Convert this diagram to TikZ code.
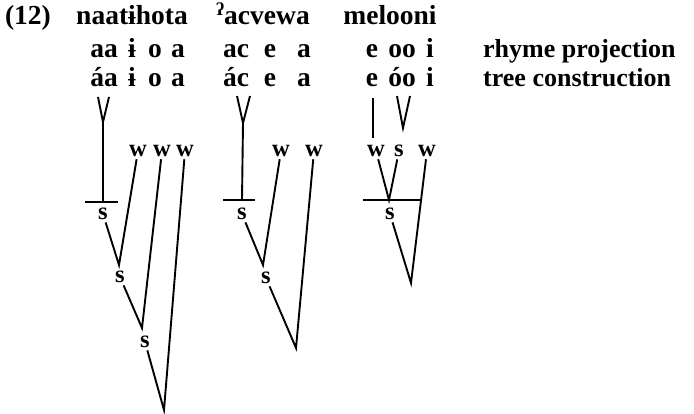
\documentclass[tikz,border=0pt]{standalone}
\usepackage{fontspec}
\setmainfont{Liberation Serif}
\begin{document}
\begin{tikzpicture}[x=1pt,y=-1pt,
  txt/.style={font=\bfseries\fontsize{27.5}{32}\selectfont, inner sep=0pt, anchor=base},
  side/.style={font=\bfseries\fontsize{26}{30}\selectfont, inner sep=0pt, anchor=base west},
  lab/.style={font=\bfseries\fontsize{24.5}{28}\selectfont, inner sep=0pt, outer sep=2.5pt},
  ln/.style={line width=1.9pt}]
\useasboundingbox (0,0) rectangle (694,414);
% row 1
\node[txt] (num) at (28,25) {(12)};
\node[txt] (wa) at (132,25) {naatɨhota};
\node[txt] (wb) at (263,25) {\raisebox{0.33em}{\fontsize{18}{18}\selectfont ʔ}acvewa};
\node[txt] (wc) at (390,25) {melooni};
% row 2
\node[txt] (ra1) at (104,58) {aa};
\node[txt] (ra2) at (132,58) {ɨ};
\node[txt] (ra3) at (155,58) {o};
\node[txt] (ra4) at (178,58) {a};
\node[txt] (rb1) at (236,58) {ac};
\node[txt] (rb2) at (270,58) {e};
\node[txt] (rb3) at (304,58) {a};
\node[txt] (rc1) at (372,58) {e};
\node[txt] (rc2) at (402,58) {oo};
\node[txt] (rc3) at (430,58) {i};
\node[side] (rp) at (483,58) {rhyme projection};
% row 3
\node[txt] (ta1) at (104,87) {áa};
\node[txt] (ta2) at (132,87) {ɨ};
\node[txt] (ta3) at (155,87) {o};
\node[txt] (ta4) at (178,87) {a};
\node[txt] (tb1) at (236,87) {ác};
\node[txt] (tb2) at (270,87) {e};
\node[txt] (tb3) at (304,87) {a};
\node[txt] (tc1) at (372,87) {e};
\node[txt] (tc2) at (402,87) {óo};
\node[txt] (tc3) at (430,87) {i};
\node[side] (tc) at (483,87) {tree construction};

% ---------- tree 1 ----------
\coordinate (a1l) at (98,97);
\coordinate (a1r) at (109,97);
\coordinate (a1j) at (103,122);
\coordinate (a1b) at (103,202);
\coordinate (a1bl) at (85,202);
\coordinate (a1br) at (118,202);
\draw[ln] (a1l) -- (a1j) (a1r) -- (a1j) -- (a1b);
\draw[ln] (a1bl) -- (a1br);
\node[lab] (as1) at (103,214) {s};
\node[lab] (aw1) at (138,151) {w};
\node[lab] (aw2) at (162,151) {w};
\node[lab] (aw3) at (185,151) {w};
\coordinate (aj1) at (119,265);
\node[lab] (as2) at (120,277) {s};
\coordinate (aj2) at (142,328);
\node[lab] (as3) at (145,342) {s};
\coordinate (aj3) at (164,410);
\draw[ln] (as1) -- (aj1) -- (aw1);
\draw[ln] (as2) -- (aj2) -- (aw2);
\draw[ln] (as3) -- (aj3) -- (aw3);

% ---------- tree 2 ----------
\coordinate (b1l) at (237,96);
\coordinate (b1r) at (250,96);
\coordinate (b1j) at (243,123);
\coordinate (b1b) at (242,200);
\coordinate (b1bl) at (223,200);
\coordinate (b1br) at (255,200);
\draw[ln] (b1l) -- (b1j) (b1r) -- (b1j) -- (b1b);
\draw[ln] (b1bl) -- (b1br);
\node[lab] (bs1) at (242,214) {s};
\node[lab] (bw1) at (281,151) {w};
\node[lab] (bw2) at (314,151) {w};
\coordinate (bj1) at (263,265);
\node[lab] (bs2) at (266,278) {s};
\coordinate (bj2) at (296,348);
\draw[ln] (bs1) -- (bj1) -- (bw1);
\draw[ln] (bs2) -- (bj2) -- (bw2);

% ---------- tree 3 ----------
\coordinate (c1t) at (373,98);
\coordinate (c1b) at (373,138);
\coordinate (c2l) at (397,96);
\coordinate (c2r) at (410,96);
\coordinate (c2j) at (403,128);
\draw[ln] (c1t) -- (c1b);
\draw[ln] (c2l) -- (c2j) -- (c2r);
\node[lab] (cw1) at (376,151) {w};
\node[lab] (cs0) at (399,151) {s};
\node[lab] (cw2) at (427,151) {w};
\coordinate (cj0) at (389,200);
\coordinate (cbl) at (363,200);
\coordinate (cbr) at (421,200);
\draw[ln] (cw1) -- (cj0) -- (cs0);
\draw[ln] (cbl) -- (cbr);
\node[lab] (cs1) at (390,214) {s};
\coordinate (cj1) at (411,283);
\draw[ln] (cs1) -- (cj1) -- (cw2);
\end{tikzpicture}
\end{document}
